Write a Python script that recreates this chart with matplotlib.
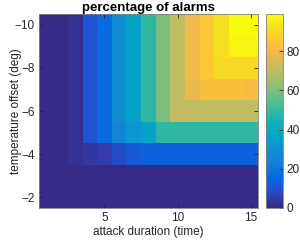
import numpy as np
import matplotlib
matplotlib.use('Agg')
import matplotlib.pyplot as plt
from matplotlib.colors import LinearSegmentedColormap

plt.rcParams['font.family'] = ['Liberation Sans', 'DejaVu Sans']

# attack duration (columns) and temperature offset (rows, top to bottom)
durations = np.arange(1, 16)
offsets = [-10, -9, -8, -7, -6, -5, -4, -3, -2]

# percentage of alarms, one list per temperature offset
row_m10 = [0, 0, 2, 10, 17, 28, 37, 49, 59, 70, 79, 86, 92, 98, 99]
row_m9 = [0, 0, 2, 10, 17, 28, 37, 49, 59, 70, 79, 86, 92, 96, 96]
row_m8 = [0, 0, 2, 10, 17, 28, 37, 49, 59, 70, 79, 86, 90, 91, 91]
row_m7 = [0, 0, 2, 10, 17, 28, 37, 49, 59, 70, 78, 82, 82, 82, 81]
row_m6 = [0, 0, 2, 10, 17, 28, 37, 49, 59, 70, 70, 70, 70, 71, 70]
row_m5 = [0, 0, 2, 10, 17, 26, 31, 37, 49, 49, 48, 48, 49, 48, 48]
row_m4 = [0, 0, 2, 4, 6, 9, 11, 13, 13, 13, 13, 13, 13, 13, 13]
row_m3 = [0] * 15
row_m2 = [0] * 15
alarms = np.array([row_m10, row_m9, row_m8, row_m7, row_m6,
                   row_m5, row_m4, row_m3, row_m2])

# MATLAB parula (subsampled)
parula = [
    (0.2081, 0.1663, 0.5292), (0.2081, 0.2386, 0.6771), (0.1253, 0.3242, 0.8303),
    (0.0060, 0.4086, 0.8828), (0.0498, 0.4586, 0.8641), (0.0779, 0.5040, 0.8384),
    (0.0641, 0.5570, 0.8240), (0.0265, 0.6137, 0.8135), (0.0228, 0.6535, 0.7768),
    (0.0590, 0.6838, 0.7254), (0.1453, 0.7098, 0.6646), (0.2586, 0.7317, 0.5954),
    (0.3953, 0.7459, 0.5244), (0.5300, 0.7491, 0.4661), (0.6473, 0.7456, 0.4188),
    (0.7525, 0.7384, 0.3768), (0.8507, 0.7299, 0.3360), (0.9450, 0.7261, 0.2886),
    (0.9990, 0.7653, 0.2164), (0.9789, 0.8271, 0.1633), (0.9589, 0.8949, 0.1132),
    (0.9763, 0.9831, 0.0538),
]
cmap = LinearSegmentedColormap.from_list('parula', parula, N=64)

fig = plt.figure(figsize=(3.0, 2.42), dpi=100)
ax = fig.add_axes([0.129, 0.1405, 0.731, 0.8015])
cax = fig.add_axes([0.888, 0.1405, 0.054, 0.8015])

x_edges = np.append(durations - 0.5, durations[-1] + 0.5)
y_edges = np.append(np.array(offsets) - 0.5, offsets[-1] + 0.5)
mesh = ax.pcolormesh(x_edges, y_edges, alarms, cmap=cmap, vmin=0, vmax=99)
ax.set_xlim(0.5, 15.5)
ax.set_ylim(-1.5, -10.5)

ax.set_xticks([5, 10, 15])
ax.set_yticks([-10, -8, -6, -4, -2])
ax.tick_params(direction='in', top=True, right=True, length=3, width=0.6,
               colors='#262626', labelsize=8.5, pad=3)
for s in ax.spines.values():
    s.set_color('#808080')
    s.set_linewidth(0.6)

ax.set_xlabel('attack duration (time)', fontsize=8.5, color='#262626', labelpad=1)
ax.set_ylabel('temperature offset (deg)', fontsize=8.5, color='#262626')
ax.yaxis.set_label_coords(-0.077, 0.5)
ax.set_title('percentage of alarms', fontsize=9.5, fontweight='bold', pad=2)

cb = fig.colorbar(mesh, cax=cax, ticks=[0, 20, 40, 60, 80])
cb.outline.set_edgecolor('#808080')
cb.outline.set_linewidth(0.6)
cax.tick_params(direction='in', length=3, width=0.6, colors='#262626',
                labelsize=8.5, pad=3)

fig.savefig('out.png', dpi=100)
